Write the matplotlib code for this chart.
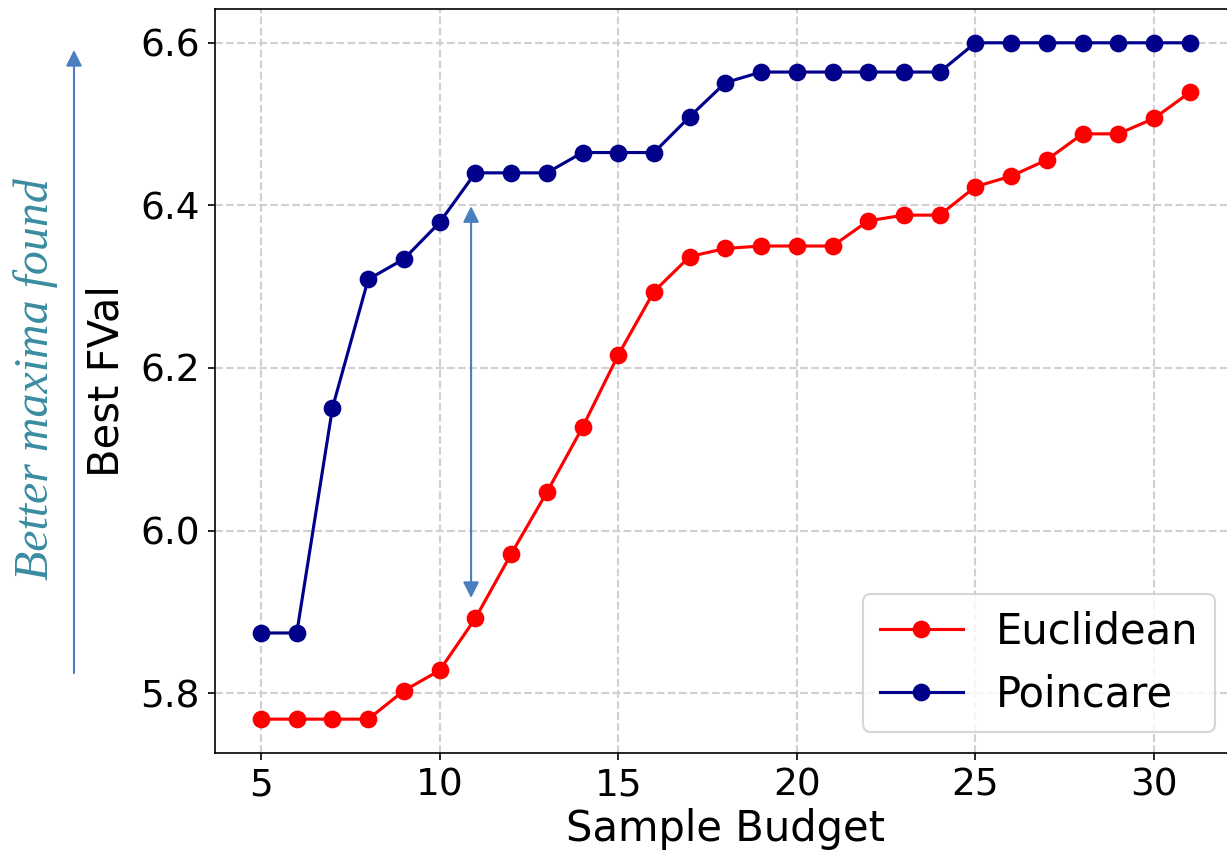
import matplotlib.pyplot as plt
import numpy as np

# sample budgets and best function value found so far
budget = list(range(5, 32))
euclidean = [5.768, 5.768, 5.768, 5.768, 5.803, 5.828, 5.892, 5.971, 6.047,
             6.127, 6.216, 6.294, 6.337, 6.347, 6.350, 6.350, 6.350, 6.381,
             6.388, 6.388, 6.423, 6.436, 6.456, 6.488, 6.488, 6.507, 6.539]
poincare = [5.874, 5.874, 6.151, 6.309, 6.334, 6.379, 6.440, 6.440, 6.440,
            6.465, 6.465, 6.465, 6.509, 6.551, 6.564, 6.564, 6.564, 6.564,
            6.564, 6.564, 6.600, 6.600, 6.600, 6.600, 6.600, 6.600, 6.600]

# gap arrow between the two curves
gap_x = 10.88
gap_low, gap_high = 5.917, 6.399

fig = plt.figure(figsize=(1227 / 150, 854 / 150), dpi=150)
ax = fig.add_axes([0.1749, 0.1183, 0.8326, 0.8712])

ax.plot(budget, euclidean, '-o', color='red', lw=1.5, ms=7.5, label='Euclidean')
ax.plot(budget, poincare, '-o', color='darkblue', lw=1.5, ms=7.5, label='Poincare')

ax.annotate('', xy=(gap_x, gap_high), xytext=(gap_x, gap_low),
            arrowprops=dict(arrowstyle='<|-|>', color='#4a7fbf', lw=1.0,
                            mutation_scale=16, shrinkA=0, shrinkB=0))

ax.grid(True, linestyle='--', color='#d0d0d0', lw=1)
ax.set_axisbelow(True)
ax.tick_params(labelsize=18)
ax.set_xlabel('Sample Budget', fontsize=20, labelpad=2)
ax.set_ylabel('Best FVal', fontsize=20, labelpad=6)
ax.set_xticks([5, 10, 15, 20, 25, 30])
ax.set_yticks([5.8, 6.0, 6.2, 6.4, 6.6])
ax.legend(loc='lower right', fontsize=20)

# side arrow showing which direction is better
fig.add_artist(plt.Annotation('', xy=(0.0603, 0.9415), xytext=(0.0603, 0.2119),
                              xycoords='figure fraction', textcoords='figure fraction',
                              arrowprops=dict(arrowstyle='-|>', color='#4a7fbf', lw=1.0,
                                              mutation_scale=16, shrinkA=0, shrinkB=0)))
fig.text(0.029, 0.556, 'Better maxima found', rotation=90, ha='center', va='center',
         fontsize=23, style='italic', family='Liberation Serif', color='#3a8ca0')

fig.savefig('out.png', dpi=150)
